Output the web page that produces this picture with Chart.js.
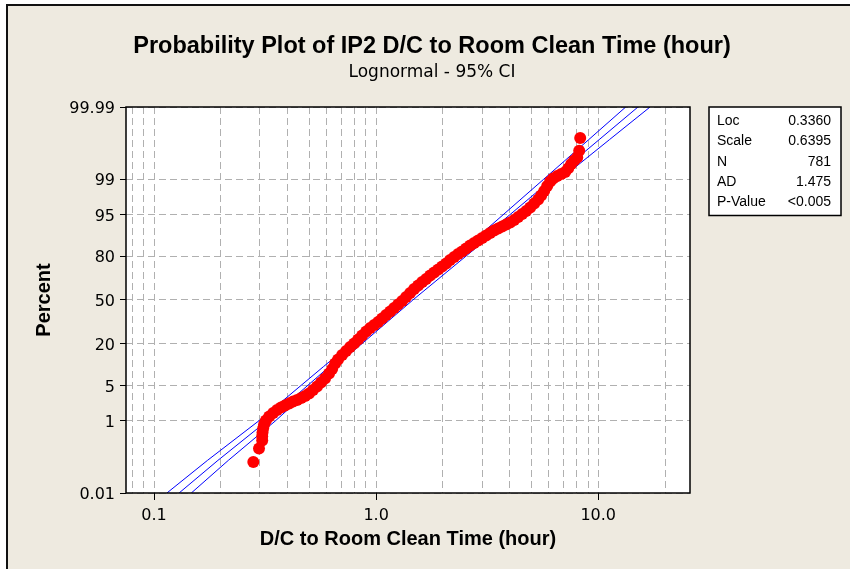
<!DOCTYPE html>
<html>
<head>
<meta charset="utf-8">
<title>Probability Plot</title>
<script src="https://cdn.jsdelivr.net/npm/chart.js@4.4.1/dist/chart.umd.min.js"></script>
<style>
  html, body { margin: 0; padding: 0; background: #fff; overflow: hidden; }
  #frame { position: absolute; left: 6px; top: 4px; width: 842px; height: 563px;
           background: #EEEAE0; border-left: 2px solid #111; border-top: 2px solid #111; }
  #myChart { position: absolute; left: 0; top: 0; display: block; }
</style>
</head>
<body>
<div id="frame"></div>
<canvas id="myChart" width="850" height="569"></canvas>
<script>
// points: time (hour) and plotted percent
const times = [0.280, 0.297, 0.307, 0.307, 0.308, 0.310, 0.313, 0.319, 0.330, 0.344,
  0.358, 0.373, 0.389, 0.406, 0.423, 0.441, 0.460, 0.479, 0.499, 0.520,
  0.542, 0.565, 0.589, 0.614, 0.634, 0.654, 0.674, 0.703, 0.733, 0.764,
  0.796, 0.830, 0.865, 0.902, 0.940, 0.980, 1.021, 1.064, 1.109, 1.157,
  1.205, 1.256, 1.310, 1.365, 1.423, 1.483, 1.546, 1.612, 1.680, 1.751,
  1.825, 1.903, 1.983, 2.067, 2.154, 2.246, 2.341, 2.440, 2.543, 2.651,
  2.763, 2.881, 3.003, 3.130, 3.262, 3.400, 3.544, 3.695, 3.852, 4.015,
  4.185, 4.362, 4.547, 4.740, 4.940, 5.149, 5.367, 5.537, 5.713, 5.893,
  6.080, 6.272, 6.537, 6.813, 7.102, 7.327, 7.559, 7.797, 8.044, 8.212, 8.298]
const percents = [0.09, 0.21, 0.34, 0.43, 0.53, 0.66, 0.82, 1.01, 1.24, 1.47,
  1.70, 1.92, 2.10, 2.31, 2.52, 2.70, 2.95, 3.22, 3.58, 4.15,
  4.78, 5.59, 6.51, 7.84, 9.19, 11.06, 12.59, 14.46, 16.29, 18.26,
  20.10, 22.33, 24.70, 27.20, 29.48, 31.50, 33.58, 36.07, 38.63, 41.23,
  43.88, 46.55, 49.23, 52.30, 55.37, 58.39, 61.00, 63.56, 65.71, 68.16,
  70.19, 72.16, 74.07, 75.91, 77.96, 79.63, 81.23, 82.50, 83.95, 85.32,
  86.40, 87.42, 88.39, 89.30, 90.16, 90.97, 91.58, 92.16, 92.71, 93.23,
  93.84, 94.51, 95.12, 95.68, 96.27, 96.85, 97.36, 97.80, 98.21, 98.60,
  98.88, 99.04, 99.16, 99.24, 99.32, 99.44, 99.56, 99.64, 99.70, 99.80, 99.91]

// fitted line and 95% CI band (time at each percent)
const ciPercents = [0.01, 0.1, 1, 10, 50, 90, 99, 99.9, 99.99]
const fitTimes = [0.1297, 0.1940, 0.3235, 0.6166, 1.3995, 3.176, 6.192, 10.10, 15.10]
const ciLower = [0.1143, 0.1741, 0.2969, 0.5803, 1.3378, 2.989, 5.680, 9.064, 13.30]
const ciUpper = [0.1472, 0.2161, 0.3527, 0.6552, 1.4637, 3.375, 6.751, 11.24, 17.12]

// axes
const yTicks = [0.01, 1, 5, 20, 50, 80, 95, 99, 99.99]
const xGrid = [0.08, 0.09, 0.1, 0.2, 0.3, 0.4, 0.5, 0.6, 0.7, 0.8, 0.9,
  1, 2, 3, 4, 5, 6, 7, 8, 9, 10, 20]
const xLabelValues = [0.1, 1, 10]
const xLabelTexts = ['0.1', '1.0', '10.0']

const statLabels = ['Loc', 'Scale', 'N', 'AD', 'P-Value']
const statValues = ['0.3360', '0.6395', '781', '1.475', '<0.005']

// inverse normal cdf (Acklam)
function probit(p) {
    const a = [-3.969683028665376e+01, 2.209460984245205e+02, -2.759285104469687e+02, 1.383577518672690e+02, -3.066479806614716e+01, 2.506628277459239e+00]
    const b = [-5.447609879822406e+01, 1.615858368580409e+02, -1.556989798598866e+02, 6.680131188771972e+01, -1.328068155288572e+01]
    const c = [-7.784894002430293e-03, -3.223964580411365e-01, -2.400758277161838e+00, -2.549671035506768e+00, 4.374664141464968e+00, 2.938163982698783e+00]
    const d = [7.784695709041462e-03, 3.224671290700398e-01, 2.445134137142996e+00, 3.754408661907416e+00]
    let q, r
    if (p < 0.02425) {
        q = Math.sqrt(-2 * Math.log(p))
        return (((((c[0]*q+c[1])*q+c[2])*q+c[3])*q+c[4])*q+c[5]) / ((((d[0]*q+d[1])*q+d[2])*q+d[3])*q+1)
    }
    if (p > 1 - 0.02425) {
        q = Math.sqrt(-2 * Math.log(1 - p))
        return -(((((c[0]*q+c[1])*q+c[2])*q+c[3])*q+c[4])*q+c[5]) / ((((d[0]*q+d[1])*q+d[2])*q+d[3])*q+1)
    }
    q = p - 0.5
    r = q * q
    return (((((a[0]*r+a[1])*r+a[2])*r+a[3])*r+a[4])*r+a[5])*q / (((((b[0]*r+b[1])*r+b[2])*r+b[3])*r+b[4])*r+1)
}

// normal probability axis for percent values
class ProbabilityScale extends Chart.LinearScale {
    determineDataLimits() {
        this.min = this.options.min
        this.max = this.options.max
    }
    buildTicks() {
        return yTicks.map(v => ({ value: v }))
    }
    configure() {
        super.configure()
        this._zStart = probit(this.min / 100)
        this._zEnd = probit(this.max / 100)
    }
    getPixelForValue(value) {
        if (value == null || isNaN(value)) return NaN
        const z = probit(value / 100)
        return this.getPixelForDecimal((z - this._zStart) / (this._zEnd - this._zStart))
    }
}
ProbabilityScale.id = 'probability'
ProbabilityScale.defaults = {}
Chart.register(ProbabilityScale)

function pairs(xs, ys) {
    return xs.map((x, i) => ({ x: x, y: ys[i] }))
}

const plotFrame = {
    id: 'plotFrame',
    beforeDraw(chart) {
        const { ctx, chartArea: a } = chart
        ctx.save()
        ctx.fillStyle = '#fff'
        ctx.fillRect(a.left, a.top, a.right - a.left, a.bottom - a.top)
        ctx.restore()
    },
    afterDatasetsDraw(chart) {
        const { ctx, chartArea: a } = chart
        ctx.save()
        ctx.strokeStyle = '#000'
        ctx.lineWidth = 1.5
        ctx.strokeRect(a.left, a.top, a.right - a.left, a.bottom - a.top)
        ctx.restore()
    }
}

const statsBox = {
    id: 'statsBox',
    afterDraw(chart) {
        const { ctx, chartArea: a } = chart
        const left = a.right + 19, top = a.top, w = 132, h = 108.5
        ctx.save()
        ctx.fillStyle = '#fff'
        ctx.fillRect(left, top, w, h)
        ctx.strokeStyle = '#000'
        ctx.lineWidth = 1.5
        ctx.strokeRect(left, top, w, h)
        ctx.fillStyle = '#000'
        ctx.font = '14px "Liberation Sans"'
        ctx.textBaseline = 'middle'
        statLabels.forEach((lab, i) => {
            const y = top + 14 + i * 20.35
            ctx.textAlign = 'left'
            ctx.fillText(lab, left + 8, y)
            ctx.textAlign = 'right'
            ctx.fillText(statValues[i], left + 122, y)
        })
        ctx.restore()
    }
}

Chart.defaults.font.family = 'DejaVu Sans'
Chart.defaults.color = '#000'

const blueLine = { showLine: true, borderColor: '#0000FF', backgroundColor: '#0000FF',
    borderWidth: 1, pointRadius: 0, fill: false, order: 1 }

var chart = new Chart('myChart', {
    type: 'scatter',
    data: {
        datasets: [
            {
                label: 'Data',
                data: pairs(times, percents),
                backgroundColor: '#FF0000',
                borderColor: '#FF0000',
                pointRadius: 6,
                pointBorderWidth: 0,
                order: 0
            },
            Object.assign({ label: 'Fit', data: pairs(fitTimes, ciPercents) }, blueLine),
            Object.assign({ label: 'Lower CI', data: pairs(ciLower, ciPercents) }, blueLine),
            Object.assign({ label: 'Upper CI', data: pairs(ciUpper, ciPercents) }, blueLine)
        ]
    },
    options: {
        responsive: false,
        animation: false,
        events: [],
        layout: { padding: { left: 14, right: 0, top: 0, bottom: 0 } },
        plugins: {
            legend: { display: false },
            tooltip: { enabled: false },
            title: {
                display: true,
                text: 'Probability Plot of IP2 D/C to Room Clean Time (hour)',
                color: '#000',
                font: { family: 'Liberation Sans', size: 23.5, weight: 'bold', lineHeight: 1 },
                padding: { top: 35, bottom: 0 }
            },
            subtitle: {
                display: true,
                text: 'Lognormal - 95% CI',
                color: '#000',
                font: { family: 'DejaVu Sans', size: 17, lineHeight: 1 },
                padding: { top: 6, bottom: 25.5 }
            }
        },
        scales: {
            y: {
                type: 'probability',
                position: 'left',
                min: 0.01,
                max: 99.99,
                afterFit: s => { s.width = 112 },
                ticks: {
                    autoSkip: false,
                    padding: 5,
                    labelOffset: 2,
                    color: '#000',
                    font: { family: 'DejaVu Sans', size: 16 },
                    callback: v => String(v)
                },
                grid: { color: '#B0B0B0', lineWidth: 1, tickLength: 6, tickColor: '#000' },
                border: { display: false, dash: [7, 4] },
                title: {
                    display: true,
                    text: 'Percent',
                    color: '#000',
                    font: { family: 'Liberation Sans', size: 20, weight: 'bold' },
                    padding: { top: 18, bottom: 0 }
                }
            },
            y2: {
                type: 'linear',
                position: 'right',
                grid: { display: false },
                ticks: { display: false },
                border: { display: false },
                afterFit: s => { s.width = 160 }
            },
            x: {
                type: 'logarithmic',
                position: 'bottom',
                min: 0.0748,
                max: 25.9,
                afterBuildTicks: s => { s.ticks = xGrid.map(v => ({ value: v })) },
                afterFit: s => { s.height = 76 },
                ticks: {
                    autoSkip: false,
                    maxRotation: 0,
                    minRotation: 0,
                    padding: 6,
                    color: '#000',
                    font: { family: 'DejaVu Sans', size: 16 },
                    callback: v => {
                        const i = xLabelValues.indexOf(v)
                        return i >= 0 ? xLabelTexts[i] : ''
                    }
                },
                grid: {
                    color: '#B0B0B0',
                    lineWidth: 1,
                    tickLength: 7,
                    tickColor: ctx => xLabelValues.includes(ctx.tick.value) ? '#000' : 'rgba(0,0,0,0)'
                },
                border: { display: false, dash: [7, 4] },
                title: {
                    display: true,
                    text: 'D/C to Room Clean Time (hour)',
                    color: '#000',
                    font: { family: 'Liberation Sans', size: 20, weight: 'bold' },
                    padding: { top: 0, bottom: 17.5 }
                }
            }
        }
    },
    plugins: [plotFrame, statsBox]
})
</script>
</body>
</html>
